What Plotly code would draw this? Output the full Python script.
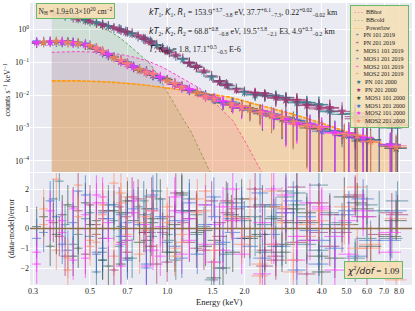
import numpy as np
import plotly.graph_objects as go
from plotly.subplots import make_subplots

# ---------------- energy grids (keV) ----------------
E_A = [0.36, 0.40, 0.45, 0.50, 0.56, 0.62, 0.69, 0.77, 0.86, 0.96, 1.08, 1.22, 1.39, 1.60, 1.86, 2.2, 2.65, 3.2, 3.9, 4.8, 6.0, 7.5]
E_B = [0.38, 0.43, 0.48, 0.53, 0.59, 0.66, 0.73, 0.82, 0.91, 1.02, 1.15, 1.30, 1.49, 1.72, 2.0, 2.4, 2.9, 3.5, 4.3, 5.4, 6.7, 7.9]
E_C = [0.31, 0.35, 0.39, 0.43, 0.48, 0.53, 0.59, 0.66, 0.74, 0.83, 0.94, 1.07, 1.22, 1.41, 1.65, 1.95, 2.35, 2.9, 3.6, 4.5, 5.8, 7.4]
E_D = [0.33, 0.37, 0.41, 0.45, 0.50, 0.56, 0.62, 0.70, 0.78, 0.88, 1.0, 1.14, 1.31, 1.52, 1.78, 2.1, 2.55, 3.1, 3.9, 4.9, 6.2, 7.8]
# extra bins
E_Ax = [0.65, 0.81, 1.0, 1.30, 1.70, 2.4, 2.9, 3.5, 4.3, 5.4]
E_Bx = [0.56, 0.70, 0.87, 1.22, 1.60, 2.2, 2.65, 3.2, 3.9, 6.0]
E_Cx = [0.56, 0.70, 0.88, 1.14, 1.53, 1.80, 2.6, 3.2, 4.0, 5.1]
E_Dx = [0.53, 0.66, 0.83, 1.07, 1.41, 1.95, 2.3, 2.8, 3.5, 5.5]

relerr_pn = [0.05, 0.05, 0.05, 0.05, 0.05, 0.05, 0.05, 0.06, 0.06, 0.07, 0.08, 0.10, 0.13, 0.18, 0.25, 0.35, 0.45, 0.6, 0.75, 0.9, 1.0, 1.1]
relerr_mos = [0.08, 0.07, 0.07, 0.07, 0.07, 0.08, 0.08, 0.09, 0.10, 0.12, 0.14, 0.17, 0.22, 0.30, 0.40, 0.55, 0.70, 0.85, 1.0, 1.1, 1.2, 1.3]
halfbin_rel = [0.04, 0.04, 0.04, 0.04, 0.04, 0.04, 0.045, 0.045, 0.05, 0.05, 0.05, 0.055, 0.06, 0.065, 0.07, 0.075, 0.08, 0.085, 0.09, 0.09, 0.1, 0.1]
relerr_pn_x = [0.05, 0.055, 0.065, 0.11, 0.19, 0.35, 0.46, 0.6, 0.76, 0.98]
relerr_mos_x = [0.08, 0.09, 0.11, 0.15, 0.25, 0.45, 0.6, 0.75, 0.95, 1.15]
halfbin_rel_x = [0.04, 0.045, 0.05, 0.055, 0.06, 0.07, 0.075, 0.08, 0.085, 0.09]

# ---------------- spectra (counts s^-1 keV^-1) ----------------
pn101_2019 = [3.3, 2.55, 2.15, 1.72, 1.42, 1.08, 0.86, 0.60, 0.43, 0.27, 0.155, 0.098, 0.050, 0.027, 0.016, 0.0105, 0.0092, 0.0062, 0.0050, 0.0026, 0.0021, 0.0010]
pn201_2019 = [2.95, 2.25, 1.95, 1.55, 1.28, 0.95, 0.76, 0.49, 0.34, 0.20, 0.13, 0.070, 0.038, 0.020, 0.013, 0.0098, 0.0082, 0.0053, 0.0040, 0.0022, 0.0018, 0.0013]
pn101_2000 = [3.0, 2.35, 1.85, 1.62, 1.22, 0.99, 0.72, 0.52, 0.32, 0.22, 0.12, 0.075, 0.035, 0.019, 0.012, 0.0108, 0.0074, 0.0058, 0.0033, 0.0027, 0.0014, 0.0012]
pn201_2000 = [3.1, 2.65, 2.05, 1.78, 1.36, 1.12, 0.83, 0.64, 0.41, 0.25, 0.165, 0.092, 0.054, 0.025, 0.0145, 0.0115, 0.0085, 0.0070, 0.0043, 0.0032, 0.0017, 0.0014]
mos1_101_2019 = [0.38, 0.43, 0.40, 0.40, 0.33, 0.27, 0.16, 0.115, 0.07, 0.052, 0.032, 0.023, 0.014, 0.010, 0.0058, 0.0046, 0.0027, 0.0021, 0.0010, 0.0008, 0.0004, 0.00028]
mos1_201_2019 = [0.42, 0.41, 0.41, 0.37, 0.33, 0.20, 0.145, 0.088, 0.062, 0.040, 0.029, 0.017, 0.0125, 0.0075, 0.0055, 0.0035, 0.0026, 0.0015, 0.0011, 0.00058, 0.00042, 0.00025]
mos2_101_2019 = [0.41, 0.40, 0.43, 0.38, 0.36, 0.25, 0.18, 0.105, 0.075, 0.048, 0.036, 0.021, 0.015, 0.009, 0.0065, 0.0041, 0.0032, 0.0018, 0.0013, 0.0007, 0.00052, 0.00032]
mos2_201_2019 = [0.39, 0.44, 0.39, 0.39, 0.31, 0.22, 0.135, 0.094, 0.057, 0.044, 0.027, 0.019, 0.0115, 0.0082, 0.0050, 0.0039, 0.0023, 0.0017, 0.0009, 0.00066, 0.00037, 0.00029]
mos1_101_2000 = [0.40, 0.42, 0.42, 0.38, 0.30, 0.21, 0.14, 0.092, 0.058, 0.041, 0.030, 0.018, 0.012, 0.0080, 0.0051, 0.0038, 0.0024, 0.0017, 0.00095, 0.00060, 0.00044, 0.00024]
mos1_201_2000 = [0.42, 0.41, 0.40, 0.39, 0.36, 0.26, 0.165, 0.11, 0.074, 0.049, 0.033, 0.023, 0.0142, 0.0098, 0.0060, 0.0044, 0.0029, 0.0020, 0.0012, 0.00078, 0.00046, 0.00031]
mos2_101_2000 = [0.40, 0.41, 0.42, 0.40, 0.34, 0.265, 0.175, 0.108, 0.071, 0.051, 0.035, 0.022, 0.0148, 0.0092, 0.0064, 0.0042, 0.0031, 0.0018, 0.00125, 0.00072, 0.0005, 0.0003]
mos2_201_2000 = [0.41, 0.43, 0.40, 0.37, 0.32, 0.215, 0.138, 0.091, 0.061, 0.043, 0.028, 0.0175, 0.0122, 0.0076, 0.0054, 0.0036, 0.0025, 0.00155, 0.00102, 0.00064, 0.00039, 0.00026]
# spectra in the extra bins
pn101_2019_x = [1.02, 0.50, 0.23, 0.070, 0.022, 0.0095, 0.0085, 0.0060, 0.0031, 0.0028]
pn201_2000_x = [0.97, 0.54, 0.21, 0.075, 0.020, 0.0110, 0.0070, 0.0048, 0.0042, 0.0019]
pn201_2019_x = [1.36, 0.84, 0.38, 0.098, 0.027, 0.0118, 0.0080, 0.0072, 0.0038, 0.0023]
pn101_2000_x = [1.43, 0.79, 0.42, 0.090, 0.025, 0.0100, 0.0096, 0.0058, 0.0052, 0.0015]
mos1_101_2019_x = [0.20, 0.092, 0.040, 0.019, 0.0075, 0.0055, 0.0022, 0.0016, 0.0009, 0.0007]
mos2_101_2019_x = [0.22, 0.086, 0.044, 0.017, 0.0082, 0.0049, 0.0026, 0.0013, 0.0011, 0.00055]
mos1_201_2000_x = [0.21, 0.094, 0.041, 0.0185, 0.0072, 0.0058, 0.0025, 0.0017, 0.0008, 0.0006]
mos2_101_2000_x = [0.205, 0.088, 0.043, 0.0178, 0.0080, 0.0050, 0.0023, 0.0014, 0.00105, 0.00068]
mos1_201_2019_x = [0.25, 0.108, 0.052, 0.021, 0.0098, 0.0040, 0.0033, 0.0018, 0.0014, 0.0005]
mos2_201_2019_x = [0.27, 0.112, 0.048, 0.023, 0.0090, 0.0046, 0.0029, 0.0022, 0.0011, 0.0006]
mos1_101_2000_x = [0.255, 0.106, 0.051, 0.0215, 0.0096, 0.0041, 0.0032, 0.0019, 0.00125, 0.00052]
mos2_201_2000_x = [0.265, 0.114, 0.049, 0.0225, 0.0093, 0.0045, 0.0030, 0.0021, 0.0012, 0.00058]

# ---------------- residuals (data-model)/error ----------------
r_pn101_2019 = [1.5, 0.2, -0.3, 0.8, -1.2, 0.4, -0.6, 1.1, -0.2, 0.5, -1.6, 0.9, 0.1, -0.8, 1.3, -0.4, 0.6, 1.8, -1.1, 0.3, 1.2, -0.5]
r_pn201_2019 = [-0.4, 1.1, -1.3, 0.2, 0.9, -0.7, 1.6, -0.2, -1.8, 0.6, 0.3, -1.0, 1.4, 0.8, -0.5, -1.9, 1.0, 0.4, -0.9, 1.7, -0.3, 0.7]
r_pn101_2000 = [2.4, -0.8, 0.5, -2.2, 1.2, 0.1, -1.5, 0.7, 1.9, -0.6, 0.9, -0.3, -2.6, 1.3, 0.4, -1.2, 1.6, -0.8, 0.2, -1.7, 0.9, 1.4]
r_pn201_2000 = [0.3, -1.4, 0.9, 1.2, -0.5, -2.1, 0.6, 1.5, -0.9, -0.2, 1.8, 0.5, -1.1, -0.4, 1.0, 2.0, -1.6, -0.7, 1.3, -0.2, -1.9, 0.8]
r_mos1_101_2019 = [0.1, -0.9, 0.7, -1.4, 1.3, -0.3, -1.9, 0.8, 0.4, -0.6, 1.5, -1.2, 0.9, -0.1, -2.0, 0.6, 1.2, -0.8, 0.3, -1.5, 1.0, -0.4]
r_mos1_201_2019 = [-0.2, 0.6, -1.1, 1.9, -0.4, 0.8, 1.2, -1.6, 0.2, 1.0, -0.7, 0.4, -1.3, 1.6, 0.5, -0.9, -0.3, 1.4, -1.8, 0.7, -0.6, 0.9]
r_mos2_101_2019 = [-1.8, 0.4, -0.2, 1.0, -1.5, 1.7, 0.3, -0.8, 1.4, -1.9, 0.1, 0.9, -0.6, 1.2, -1.1, 0.5, -2.3, 0.8, 1.3, -0.4, 0.6, -1.2]
r_mos2_201_2019 = [0.2, -1.1, -2.1, 2.2, -0.6, 0.7, -1.4, 1.6, 0.3, -0.9, 1.1, -0.3, 0.8, -1.7, 0.4, 1.5, -0.8, -2.2, 0.9, 0.2, -1.0, 0.5]
r_mos1_101_2000 = [0.6, -0.3, 1.2, -1.0, 0.2, -1.6, 0.9, 1.4, -0.7, 0.5, -1.2, 1.8, -0.2, -2.5, 0.7, -0.5, 1.1, 0.3, -1.4, 1.6, -0.9, 0.4]
r_mos1_201_2000 = [-0.5, 1.4, -0.8, 0.3, 1.7, -1.2, 0.5, -0.4, 1.0, -1.8, 0.6, -0.9, 1.3, 0.2, -0.7, 1.1, -1.5, 0.8, -0.1, -1.0, 1.5, -0.6]
r_mos2_101_2000 = [-1.2, 0.9, 0.4, -1.6, 0.7, 1.3, -0.5, -1.9, 0.8, 0.2, -1.4, 1.6, 0.5, -0.8, 1.1, -1.3, 0.3, 1.7, -0.6, -2.1, 0.9, -0.2]
r_mos2_201_2000 = [1.0, 2.5, -1.5, 0.6, -0.9, 1.2, 2.3, -0.3, -1.3, 0.9, 0.3, -0.7, 1.5, -1.1, 0.6, -0.4, 1.9, -1.6, 0.4, 1.1, -0.8, -2.6]
# residuals in the extra bins
r_pn101_2019_x = [-0.9, 1.4, -0.3, 0.7, -1.3, 0.2, 1.9, -0.6, 0.8, -1.5]
r_pn201_2019_x = [0.5, -1.2, 1.6, -0.7, 0.3, 1.1, -1.4, 2.1, -0.2, 0.6]
r_pn101_2000_x = [-1.6, 0.8, -0.4, 1.5, -2.0, 0.6, -0.9, 1.2, 2.2, -0.5]
r_pn201_2000_x = [1.1, -0.2, -1.7, 0.9, 1.4, -1.1, 0.4, -2.3, 0.7, 1.6]
r_mos1_101_2019_x = [0.9, -1.5, 0.3, 1.7, -0.6, -1.2, 0.5, 1.0, -2.2, 0.2]
r_mos1_201_2019_x = [-1.3, 0.7, -2.0, 0.4, 1.2, -0.5, 1.8, -0.9, 0.6, -1.4]
r_mos2_101_2019_x = [1.6, -0.4, 0.9, -1.3, 0.2, 2.0, -0.8, -1.6, 1.1, 0.4]
r_mos2_201_2019_x = [-0.7, 1.3, -0.1, -1.0, 1.9, 0.5, -1.8, 0.3, -0.4, 2.1]
r_mos1_101_2000_x = [0.4, -1.8, 1.0, 0.2, -0.9, 1.5, -0.3, -1.2, 0.8, 1.3]
r_mos1_201_2000_x = [-1.0, 0.3, 1.7, -1.5, 0.6, -0.2, 1.2, -2.1, -0.6, 0.9]
r_mos2_101_2000_x = [1.3, -0.6, -1.1, 0.8, -1.7, 0.4, 2.0, -0.4, 1.0, -1.3]
r_mos2_201_2000_x = [-0.3, 1.8, 0.6, -1.4, 0.9, -0.8, -2.4, 1.1, 0.2, -1.0]

# ---------------- model components ----------------
E_cold = [0.355, 0.40, 0.457, 0.50, 0.547, 0.60, 0.655, 0.70, 0.748, 0.80, 0.857, 0.91, 0.963, 1.02, 1.07, 1.15, 1.23, 1.34, 1.47]
bb_cold = [2.9, 2.4, 1.9, 1.5, 1.2, 0.85, 0.55, 0.36, 0.23, 0.15, 0.09, 0.045, 0.021, 0.0095, 0.0049, 0.0019, 0.00085, 0.00021, 0.000045]
E_hot = [0.355, 0.45, 0.55, 0.65, 0.75, 0.85, 0.96, 1.08, 1.20, 1.34, 1.48, 1.65, 1.80, 2.0, 2.19, 2.34]
bb_hot = [0.20, 0.21, 0.20, 0.175, 0.14, 0.105, 0.07, 0.042, 0.026, 0.016, 0.0075, 0.0034, 0.0017, 0.00042, 0.00012, 0.000044]
E_pl = [0.355, 0.457, 0.598, 0.783, 1.03, 1.34, 1.76, 2.29, 3.0, 3.9, 5.1, 6.6, 7.83]
powerlaw = [0.027, 0.027, 0.025, 0.021, 0.016, 0.012, 0.0086, 0.0049, 0.0028, 0.0015, 0.00074, 0.00036, 0.00021]

x_tickvals = [0.3, 0.5, 0.7, 1.0, 1.5, 2.0, 3.0, 4.0, 5.0, 6.0, 7.0, 8.0]
x_ticktext = ["0.3", "0.5", "0.7", "1.0", "1.5", "2.0", "3.0", "4.0", "5.0", "6.0", "7.0", "8.0"]
y_tickvals = [1e-4, 1e-3, 1e-2, 1e-1, 1]
y_ticktext = ["10<sup>−4</sup>", "10<sup>−3</sup>", "10<sup>−2</sup>", "10<sup>−1</sup>", "10<sup>0</sup>"]
r_tickvals = [-2, -1, 0, 1, 2]
r_ticktext = ["−2", "−1", "0", "1", "2"]

C_PN101 = "#34798a"
C_PN201 = "#a3306e"
C_M1_101 = "#38503f"
C_M1_201 = "#3d6fd6"
C_M2_101 = "#ff33ff"
C_M2_201 = "#ff8a65"

PN_ERR = (relerr_pn, relerr_pn_x)
MOS_ERR = (relerr_mos, relerr_mos_x)
series = [
    ("PN 101 2019", (E_A, E_Ax), (pn101_2019, pn101_2019_x), (r_pn101_2019, r_pn101_2019_x), PN_ERR, C_PN101, "cross"),
    ("PN 201 2019", (E_B, E_Bx), (pn201_2019, pn201_2019_x), (r_pn201_2019, r_pn201_2019_x), PN_ERR, C_PN201, "cross"),
    ("MOS1 101 2019", (E_C, E_Cx), (mos1_101_2019, mos1_101_2019_x), (r_mos1_101_2019, r_mos1_101_2019_x), MOS_ERR, C_M1_101, "cross"),
    ("MOS1 201 2019", (E_D, E_Dx), (mos1_201_2019, mos1_201_2019_x), (r_mos1_201_2019, r_mos1_201_2019_x), MOS_ERR, C_M1_201, "cross"),
    ("MOS2 101 2019", (E_C, E_Cx), (mos2_101_2019, mos2_101_2019_x), (r_mos2_101_2019, r_mos2_101_2019_x), MOS_ERR, C_M2_101, "cross"),
    ("MOS2 201 2019", (E_D, E_Dx), (mos2_201_2019, mos2_201_2019_x), (r_mos2_201_2019, r_mos2_201_2019_x), MOS_ERR, C_M2_201, "cross"),
    ("PN 101 2000", (E_B, E_Bx), (pn101_2000, pn101_2000_x), (r_pn101_2000, r_pn101_2000_x), PN_ERR, C_PN101, "star"),
    ("PN 201 2000", (E_A, E_Ax), (pn201_2000, pn201_2000_x), (r_pn201_2000, r_pn201_2000_x), PN_ERR, C_PN201, "star"),
    ("MOS1 101 2000", (E_D, E_Dx), (mos1_101_2000, mos1_101_2000_x), (r_mos1_101_2000, r_mos1_101_2000_x), MOS_ERR, C_M1_101, "star"),
    ("MOS1 201 2000", (E_C, E_Cx), (mos1_201_2000, mos1_201_2000_x), (r_mos1_201_2000, r_mos1_201_2000_x), MOS_ERR, C_M1_201, "star"),
    ("MOS2 101 2000", (E_C, E_Cx), (mos2_101_2000, mos2_101_2000_x), (r_mos2_101_2000, r_mos2_101_2000_x), MOS_ERR, C_M2_101, "star"),
    ("MOS2 201 2000", (E_D, E_Dx), (mos2_201_2000, mos2_201_2000_x), (r_mos2_201_2000, r_mos2_201_2000_x), MOS_ERR, C_M2_201, "star"),
]

fig = make_subplots(rows=2, cols=1, shared_xaxes=True)

# model fills
fig.add_trace(go.Scatter(x=E_cold, y=bb_cold, mode="lines", fill="tozeroy",
                         fillcolor="rgba(90,180,95,0.18)",
                         line=dict(color="#55aa5a", width=1, dash="3px,2px"),
                         showlegend=False, hoverinfo="skip"), row=1, col=1)
fig.add_trace(go.Scatter(x=E_hot, y=bb_hot, mode="lines", fill="tozeroy",
                         fillcolor="rgba(225,90,200,0.16)",
                         line=dict(color="#ff44cc", width=1, dash="3px,2px"),
                         showlegend=False, hoverinfo="skip"), row=1, col=1)
fig.add_trace(go.Scatter(x=E_pl, y=powerlaw, mode="lines", fill="tozeroy",
                         fillcolor="rgba(255,160,40,0.33)",
                         line=dict(color="#ff9a10", width=1.6, dash="4px,1px"),
                         showlegend=False, hoverinfo="skip"), row=1, col=1)

for name, Es, vs, rs, rels, col, sym in series:
    E = np.concatenate([Es[0], Es[1]])
    v = np.concatenate([vs[0], vs[1]])
    r = np.concatenate([rs[0], rs[1]])
    yerr = v * np.concatenate([rels[0], rels[1]])
    xerr = E * np.concatenate([halfbin_rel, halfbin_rel_x])
    if sym == "cross":
        marker = dict(symbol="cross-thin", size=7, line=dict(width=1.2, color=col), color=col)
    else:
        marker = dict(symbol="star", size=7, color=col, line=dict(width=0))
    fig.add_trace(go.Scatter(
        x=E, y=v, mode="markers", marker=marker, opacity=0.8,
        error_y=dict(type="data", array=yerr, visible=True, thickness=1, width=0, color=col),
        error_x=dict(type="data", array=xerr, visible=True, thickness=1, width=0, color=col),
        showlegend=False, name=name), row=1, col=1)
    fig.add_trace(go.Scatter(
        x=E, y=r, mode="markers", opacity=0.6,
        marker=dict(symbol="cross-thin", size=3, line=dict(width=1, color=col), color=col),
        error_y=dict(type="data", array=np.ones(len(r)), visible=True, thickness=1.1, width=0, color=col),
        error_x=dict(type="data", array=xerr, visible=True, thickness=1.1, width=0, color=col),
        showlegend=False, name=name), row=2, col=1)

fig.add_hline(y=0, line=dict(color="#8c6d46", width=1.5), row=2, col=1)

FONT = "Liberation Serif"
grid = dict(showgrid=True, gridcolor="white", gridwidth=1, zeroline=False, showline=False,
            ticks="", automargin=False)
fig.update_xaxes(type="log", range=[np.log10(0.292), np.log10(8.99)], tickvals=x_tickvals,
                 ticktext=x_ticktext, tickfont=dict(family=FONT, size=8, color="#222"), **grid)
fig.update_xaxes(showticklabels=False, row=1, col=1)
fig.update_yaxes(type="log", range=[-4.34, 0.8], tickvals=y_tickvals, ticktext=y_ticktext,
                 tickfont=dict(family=FONT, size=8, color="#222"), domain=[0.4007, 1.0], row=1, col=1, **grid)
fig.update_yaxes(range=[-2.86, 2.81], tickvals=r_tickvals, ticktext=r_ticktext,
                 tickfont=dict(family=FONT, size=8, color="#222"), domain=[0.0, 0.397], row=2, col=1, **grid)

fig.update_layout(width=415, height=311, margin=dict(l=30, r=3, t=3, b=26),
                  paper_bgcolor="white", plot_bgcolor="#eaeaf2", showlegend=False,
                  font=dict(family=FONT, size=8, color="#222"))

MI = 'style="font-family:DejaVu Sans;font-style:italic"'
ann = []
ann.append(dict(text="counts s<sup>−1</sup> keV<sup>−1</sup>", x=-0.06, y=0.69, textangle=-90, font=dict(size=8)))
ann.append(dict(text="(data-model)/error", x=-0.047, y=0.199, textangle=-90, font=dict(size=8)))
ann.append(dict(text="Energy (keV)", x=0.497, y=-0.062, font=dict(size=8.5)))
ann.append(dict(text="N<sub>H</sub> = 1.9±0.3×10<sup>20</sup> cm<sup>−2</sup>", x=0.118, y=0.972,
                font=dict(size=7.5), bgcolor="rgba(245,222,179,0.9)", bordercolor="#6ab86a",
                borderwidth=1, borderpad=1.5))
ann.append(dict(text=f"<span {MI}>kT</span><sub>1</sub>, <span {MI}>K</span><sub>1</sub>, <span {MI}>R</span><sub>1</sub> = 153.9<sup>+3.7</sup><sub>−3.8</sub> eV, 37.7<sup>+6.1</sup><sub>−7.3</sub>, 0.22<sup>+0.02</sup><sub>−0.02</sub> km",
                x=0.306, y=0.966, xanchor="left", font=dict(size=8)))
ann.append(dict(text=f"<span {MI}>kT</span><sub>2</sub>, <span {MI}>K</span><sub>2</sub>, <span {MI}>R</span><sub>2</sub> = 68.8<sup>+0.8</sup><sub>−0.8</sub> eV, 19.5<sup>+3.8</sup><sub>−2.1</sub> E3, 4.9<sup>+0.3</sup><sub>−0.2</sub> km",
                x=0.306, y=0.899, xanchor="left", font=dict(size=8)))
ann.append(dict(text=f"<span {MI}>Γ</span>, <span {MI}>K</span><sub>PL</sub> = 1.8, 17.1<sup>+0.5</sup><sub>−0.5</sub> E-6",
                x=0.309, y=0.835, xanchor="left", font=dict(size=8)))
ann.append(dict(text=f"<span {MI}>χ</span><sup>2</sup><span {MI}>/dof</span> = 1.09", x=0.898, y=0.053,
                font=dict(size=9), bgcolor="rgba(245,222,179,0.9)", bordercolor="#6ab86a",
                borderwidth=1, borderpad=2))

legend_lines = [
    ('<span style="color:#ff44cc">- - -</span>', "BBhot"),
    ('<span style="color:#55aa5a">- - -</span>', "BBcold"),
    ('<span style="color:#ff9a10">- - -</span>', "Powerlaw"),
]
for s in series:
    name, col, sym = s[0], s[5], s[6]
    glyph = "+" if sym == "cross" else "★"
    legend_lines.append((f'<span style="color:{col}">&nbsp;{glyph}&nbsp;</span>', name))
legend_text = "<br>".join(f"{g}&nbsp;&nbsp;{t}" for g, t in legend_lines)
ann.append(dict(text=legend_text, x=0.993, y=0.993, xanchor="right", yanchor="top", align="left",
                font=dict(size=6), bgcolor="rgba(245,222,179,0.85)", bordercolor="#6ab86a",
                borderwidth=1, borderpad=3))

for a in ann:
    a.setdefault("xref", "paper")
    a.setdefault("yref", "paper")
    a.setdefault("xanchor", "center")
    a.setdefault("yanchor", "middle")
    a.setdefault("showarrow", False)
    fig.add_annotation(**a)

fig.write_html("out.html", config={"displayModeBar": False},
               post_script=["document.body.style.margin='0';document.body.style.overflow='hidden';"])
